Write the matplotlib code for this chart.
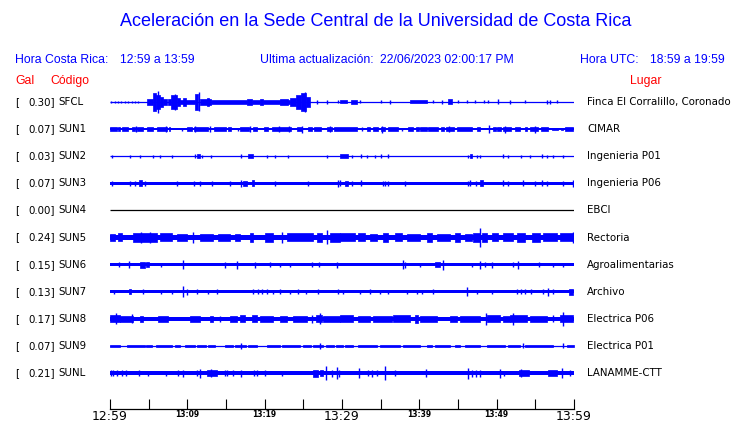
# Aceleracion en la Sede Central UCR - traces of the last hour
import matplotlib.pyplot as plt
import matplotlib.transforms as mtransforms

# station info
codes = ['SFCL', 'SUN1', 'SUN2', 'SUN3', 'SUN4', 'SUN5', 'SUN6', 'SUN7', 'SUN8', 'SUN9', 'SUNL']
gal = ['0.30', '0.07', '0.03', '0.07', '0.00', '0.24', '0.15', '0.13', '0.17', '0.07', '0.21']
places = ['Finca El Corralillo, Coronado', 'CIMAR', 'Ingenieria P01', 'Ingenieria P06', 'EBCI',
          'Rectoria', 'Agroalimentarias', 'Archivo', 'Electrica P06', 'Electrica P01', 'LANAMME-CTT']

tick_min = [0, 10, 20, 30, 40, 50, 60]
tick_lab = ['12:59', '13:09', '13:19', '13:29', '13:39', '13:49', '13:59']

# trace envelopes: time in minutes after 12:59, half amplitude in px
# base = half width of the continuous band, blk = (t0, t1, amp), spk = (t, amp)
sfcl_base = 0.6
sfcl_blk = [(4.8, 5.5, 3), (5.5, 6.0, 9), (6.0, 6.5, 7), (6.5, 6.9, 5), (6.9, 7.4, 3), (7.5, 7.9, 3),
            (7.9, 8.6, 7), (8.6, 9.0, 4), (9.0, 11.0, 2), (9.4, 9.8, 4), (11.0, 11.4, 8), (11.7, 13.1, 3),
            (12.5, 12.8, 4), (13.1, 17.7, 2), (17.7, 18.4, 3), (18.4, 19.4, 2), (19.4, 19.8, 3),
            (19.8, 23.3, 2), (22.0, 23.0, 3), (23.3, 24.0, 4), (24.0, 24.7, 7), (24.7, 25.4, 9),
            (25.4, 25.8, 5), (29.7, 30.6, 1.5), (31.2, 32.0, 2), (38.8, 41.0, 1.5), (43.7, 44.2, 2.5)]
sfcl_spk = [(0.1, 1.3), (0.7, 1.3), (1.0, 1.3), (1.4, 1.3), (1.9, 1.3), (2.3, 1.3), (2.8, 1.3), (3.2, 1.3),
            (3.6, 1.3), (6.2, 11), (8.4, 8), (11.5, 9.5), (25.2, 10), (26.8, 2), (28.1, 2), (29.5, 1.5),
            (32.3, 1.5), (35.1, 1.5), (36.2, 2), (41.8, 1.5), (42.9, 2), (45.0, 1.5), (46.2, 1.5),
            (47.2, 1.5), (48.3, 1.5), (48.9, 1.5), (50.2, 2.5), (51.7, 2), (53.7, 1.5), (56.5, 2),
            (56.9, 2), (57.8, 1.5)]

sun1_base = 1.0
sun1_blk = [(0.0, 0.9, 1.6), (1.0, 1.3, 1.6), (1.5, 2.3, 1.6), (2.8, 3.2, 1.6), (3.5, 4.3, 1.6),
            (4.8, 5.5, 1.6), (6.1, 7.4, 1.6), (7.6, 7.8, 1.6), (10.0, 10.6, 1.6), (10.8, 12.7, 2),
            (13.5, 15.0, 1.6), (15.2, 15.7, 1.6), (16.8, 18.0, 2), (18.5, 19.0, 1.6), (19.9, 20.4, 1.6),
            (20.9, 23.4, 2), (24.2, 24.8, 2), (25.6, 26.1, 1.6), (26.4, 27.3, 1.6), (28.0, 28.7, 2),
            (29.0, 32.0, 1.6), (33.2, 33.6, 1.6), (34.0, 34.7, 1.6), (35.0, 35.6, 2), (35.9, 37.3, 1.6),
            (38.5, 39.2, 1.6), (39.6, 40.0, 1.6), (40.1, 41.0, 1.6), (41.1, 42.4, 1.6), (42.8, 43.2, 1.6),
            (43.5, 44.5, 2), (44.9, 46.8, 1.6), (47.5, 47.9, 1.6), (49.5, 49.9, 1.6), (50.1, 50.6, 1.6),
            (50.8, 51.9, 2), (52.4, 53.0, 1.6), (53.6, 53.9, 1.6), (54.3, 55.3, 2), (55.7, 56.6, 1.6),
            (57.2, 57.9, 1.3), (58.3, 58.6, 1.3), (58.9, 59.9, 1.6)]
sun1_spk = [(3.3, 3), (7.2, 3), (9.3, 1.5), (11.0, 3), (12.9, 3), (16.5, 1.5), (18.1, 3), (21.8, 3),
            (23.1, 3), (24.8, 3.5), (28.4, 3), (32.6, 2), (35.2, 3.5), (37.7, 1.5), (43.9, 3), (49.0, 4),
            (51.1, 3.5), (54.9, 3.5)]

sun2_base = 0.65
sun2_blk = [(11.2, 11.6, 2), (17.9, 18.5, 2), (29.7, 30.8, 2), (46.6, 46.8, 2)]
sun2_spk = [(0.2, 1.5), (2.6, 1.5), (3.9, 1.5), (5.6, 1.5), (6.5, 1.5), (8.0, 1.5), (11.0, 2), (11.9, 1.5),
            (13.1, 1.5), (17.0, 2), (20.3, 1.5), (21.3, 1.5), (23.0, 1.5), (28.0, 1.5), (31.3, 1.5),
            (32.5, 2), (33.2, 1.5), (34.3, 1.5), (35.1, 2), (36.0, 2), (46.3, 1.5), (47.4, 1.5),
            (47.8, 1.5), (50.8, 2), (51.5, 1.5), (53.2, 1.5), (54.3, 1.5), (55.8, 2), (56.5, 1.5),
            (57.3, 1.5), (58.6, 1.5)]

sun3_base = 1.7
sun3_blk = [(3.8, 4.1, 3), (17.2, 17.7, 2.5), (18.3, 18.6, 3), (30.4, 30.8, 2.5), (47.8, 48.2, 3)]
sun3_spk = [(0.2, 2.5), (2.6, 2.5), (3.2, 2.5), (4.5, 2.5), (8.6, 2.5), (10.9, 2.5), (11.6, 2.5),
            (13.2, 2.5), (15.5, 2.5), (17.0, 3.5), (21.3, 2.5), (25.6, 2.5), (29.5, 3.5), (29.7, 3),
            (31.3, 2.5), (32.5, 3), (35.3, 2.5), (35.6, 2.5), (36.0, 2.5), (38.1, 2.5), (46.3, 2.5),
            (46.6, 3), (47.3, 2.5), (50.8, 3), (51.5, 2.5), (53.4, 3), (55.0, 2.5), (55.8, 3), (56.5, 2.5),
            (58.6, 2.5), (59.9, 3.5)]

sun4_base = 0.4
sun4_blk = []
sun4_spk = []

sun5_base = 2.9
sun5_blk = [(0.0, 0.65, 3.7), (1.0, 1.6, 4), (3.0, 6.1, 4.3), (6.5, 8.0, 4), (8.7, 10.0, 3.7),
            (11.6, 13.3, 3.7), (14.0, 15.5, 3.7), (16.2, 16.8, 3.7), (18.1, 18.5, 4.3), (20.0, 21.1, 4.3),
            (22.9, 26.2, 4), (26.8, 27.4, 4.8), (28.4, 29.7, 4.3), (29.7, 31.7, 4), (32.1, 33.0, 4),
            (33.6, 34.5, 3.7), (35.3, 35.9, 4.3), (36.9, 37.8, 4), (38.4, 40.1, 3.7), (41.0, 41.6, 4.8),
            (42.3, 44.0, 3.7), (44.6, 45.3, 4.3), (45.9, 46.8, 3.7), (46.9, 47.8, 4.3), (48.1, 48.7, 4.3),
            (49.4, 50.2, 4), (50.8, 52.1, 4), (52.6, 53.7, 4.3), (54.6, 55.6, 4.8), (56.0, 57.8, 4),
            (58.2, 59.9, 4)]
sun5_spk = [(4.0, 5.5), (5.2, 5.5), (10.7, 5.5), (22.3, 5.5), (28.0, 7), (47.9, 9.5), (59.9, 5.5)]

sun6_base = 1.7
sun6_blk = [(3.9, 4.5, 3), (4.7, 5.0, 2.5), (42.0, 42.7, 2.5)]
sun6_spk = [(1.2, 2.5), (2.4, 3.5), (6.6, 2), (9.4, 4.5), (14.9, 3), (16.4, 4), (18.75, 3), (20.7, 2.5),
            (22.0, 2), (23.3, 2), (26.1, 2.5), (27.0, 2.5), (29.4, 3), (37.9, 4.5), (38.2, 3), (40.1, 2),
            (43.0, 5), (46.8, 2), (47.8, 4), (48.5, 2.5), (49.4, 3), (52.1, 2.5), (52.7, 4), (55.5, 2.5),
            (57.3, 2), (58.6, 2)]

sun7_base = 1.7
sun7_blk = [(2.5, 2.7, 2.5), (59.3, 59.9, 3)]
sun7_spk = [(0.5, 2), (4.3, 2.5), (6.6, 2), (8.0, 2), (9.4, 5.5), (9.9, 3), (11.3, 2.5), (12.7, 2),
            (13.8, 2.5), (18.5, 2.5), (19.1, 2.5), (19.7, 2.5), (20.3, 2.5), (21.1, 2), (22.0, 2.5),
            (23.3, 2), (24.3, 2.5), (25.4, 2), (26.9, 2.5), (29.5, 2.5), (30.1, 2), (32.3, 2), (33.6, 2.5),
            (34.9, 2), (36.0, 2), (38.4, 2), (39.7, 2), (40.3, 2), (41.8, 2.5), (46.2, 4.5), (47.5, 2),
            (49.4, 2), (52.6, 2.5), (53.1, 2.5), (53.7, 2.5), (54.5, 2.5), (56.0, 2.5), (56.7, 4),
            (57.3, 2.5)]

sun8_base = 2.2
sun8_blk = [(0.0, 1.3, 3.7), (1.3, 3.0, 2.9), (3.9, 4.3, 3.2), (6.2, 7.5, 2.7), (10.3, 11.6, 3.2),
            (12.9, 13.3, 3.2), (15.5, 16.4, 3.2), (16.8, 17.5, 3.7), (18.3, 19.0, 3.7), (19.4, 21.1, 2.9),
            (22.0, 22.9, 2.9), (23.7, 25.5, 2.9), (26.7, 27.4, 3.5), (27.5, 29.7, 2.9), (29.7, 31.4, 3.5),
            (32.1, 33.6, 2.7), (34.0, 36.5, 2.7), (36.6, 38.8, 3.5), (39.4, 39.8, 4.2), (40.1, 42.3, 2.7),
            (44.0, 44.9, 3.2), (45.3, 47.8, 3.2), (48.7, 50.4, 3.7), (50.8, 51.7, 3.2), (51.7, 53.9, 3.5),
            (54.3, 56.5, 2.7), (58.2, 59.9, 3.5)]
sun8_spk = [(0.8, 5.5), (2.8, 4.5), (14.2, 3), (26.1, 4), (27.2, 5.5), (48.6, 6), (52.1, 6), (57.3, 3.5),
            (58.6, 7)]

sun9_base = 0.6
sun9_blk = [(0.0, 1.3, 1.3), (2.2, 4.5, 1.3), (4.7, 5.4, 1.3), (6.0, 8.0, 1.3), (8.4, 9.1, 1.3),
            (9.7, 11.0, 1.3), (11.3, 12.4, 1.3), (12.7, 13.6, 1.3), (14.9, 15.9, 1.3), (16.2, 17.6, 1.3),
            (17.9, 19.0, 1.3), (20.3, 22.0, 1.3), (22.3, 24.6, 1.3), (25.0, 26.0, 1.3), (26.3, 27.6, 1.3),
            (27.9, 29.0, 1.3), (29.2, 30.1, 1.3), (30.4, 31.4, 1.3), (32.1, 34.5, 1.3), (34.9, 37.5, 1.3),
            (37.9, 40.1, 1.3), (41.0, 41.6, 1.3), (42.0, 44.0, 1.3), (44.6, 45.3, 1.3), (45.9, 47.8, 1.3),
            (48.7, 51.1, 1.3), (51.5, 53.0, 1.3), (53.7, 57.3, 1.3), (59.1, 60.0, 1.3)]
sun9_spk = [(17.0, 3), (27.2, 3), (53.4, 2.5), (58.6, 2.5)]

sunl_base = 1.7
sunl_blk = [(12.5, 13.8, 3), (26.2, 26.9, 3.5), (27.2, 27.5, 3), (52.9, 54.2, 3), (56.7, 57.8, 3)]
sunl_spk = [(0.1, 3), (0.4, 3), (0.9, 3), (1.6, 3), (2.1, 3), (3.8, 3), (4.9, 2.5), (7.3, 2.5), (8.8, 3),
            (9.5, 3.5), (11.2, 3), (11.6, 4.5), (13.1, 4), (14.9, 3), (15.1, 3), (15.9, 3), (17.0, 3.5),
            (18.6, 3), (19.0, 3), (20.1, 3), (22.3, 2.5), (27.9, 7), (28.7, 3.5), (29.3, 6), (29.6, 3.5),
            (32.2, 5), (33.4, 3), (33.9, 3.5), (34.5, 3), (35.6, 7), (36.9, 3), (40.8, 4), (46.3, 5.5),
            (46.8, 3.5), (47.3, 3.5), (47.8, 3.5), (50.4, 4.5), (50.9, 2.5), (53.2, 4), (58.5, 5), (59.5, 3)]

bases = [sfcl_base, sun1_base, sun2_base, sun3_base, sun4_base, sun5_base,
         sun6_base, sun7_base, sun8_base, sun9_base, sunl_base]
blocks = [sfcl_blk, sun1_blk, sun2_blk, sun3_blk, sun4_blk, sun5_blk,
          sun6_blk, sun7_blk, sun8_blk, sun9_blk, sunl_blk]
spikes = [sfcl_spk, sun1_spk, sun2_spk, sun3_spk, sun4_spk, sun5_spk,
          sun6_spk, sun7_spk, sun8_spk, sun9_spk, sunl_spk]

W, H = 740, 423
ROW_PX = 27.1       # pixels between two traces
BLUE = '#0000ff'
RED = '#ff0000'

fig = plt.figure(figsize=(W / 100, H / 100), dpi=100)
ax = fig.add_axes([110 / W, 14 / H, 464 / W, 319 / H])
ax.set_xlim(0, 60)
ax.set_ylim((409 - 102) / ROW_PX, (90 - 102) / ROW_PX)

for i in range(len(codes)):
    col = 'black' if codes[i] == 'SUN4' else BLUE
    b = bases[i] / ROW_PX
    if bases[i] < 0.7:
        ax.hlines(i, 0, 60, color=col, lw=0.9)
    else:
        ax.fill_between([0, 60], i - b, i + b, color=col, lw=0)
    for t0, t1, a in blocks[i]:
        a = a / ROW_PX
        ax.fill_between([t0, t1], i - a, i + a, color=col, lw=0.5)
    for t, a in spikes[i]:
        a = a / ROW_PX
        ax.vlines(t, i - a, i + a, color=col, lw=1.0)

# time axis at the bottom
for s in ['top', 'left', 'right']:
    ax.spines[s].set_visible(False)
ax.spines['bottom'].set_linewidth(0.9)
ax.set_yticks([])
ax.set_xticks(tick_min)
ax.set_xticklabels(tick_lab)
ax.set_xticks(range(5, 60, 10), minor=True)
ax.tick_params(axis='x', which='both', direction='in', length=7.2, width=0.8, pad=1)
for k, lab in enumerate(ax.get_xticklabels()):
    if k % 3 == 0:
        lab.set_fontsize(9)
        lab.set_family('DejaVu Sans')
    else:
        lab.set_fontsize(5.5)
        lab.set_fontweight('bold')
        lab.set_family('DejaVu Sans')

# labels left and right of each trace
trans = mtransforms.blended_transform_factory(fig.transFigure, ax.transData)
for i in range(len(codes)):
    ax.text(15 / W, i, '[', transform=trans, ha='left', va='center', fontsize=7.4, family='DejaVu Sans')
    ax.text(55 / W, i, gal[i] + ']', transform=trans, ha='right', va='center', fontsize=7.4,
            family='DejaVu Sans')
    ax.text(58 / W, i, codes[i], transform=trans, ha='left', va='center', fontsize=7.4, family='DejaVu Sans')
    ax.text(587 / W, i, places[i], transform=trans, ha='left', va='center', fontsize=7.4,
            family='DejaVu Sans')

# header
hf = dict(family='Liberation Sans', va='center', color=BLUE, fontsize=8.8)
fig.text(376 / W, 1 - 22 / H, 'Aceleración en la Sede Central de la Universidad de Costa Rica',
         ha='center', va='center', color=BLUE, fontsize=13, family='Liberation Sans')
fig.text(15 / W, 1 - 60 / H, 'Hora Costa Rica:', **hf)
fig.text(120 / W, 1 - 60 / H, '12:59 a 13:59', **hf)
fig.text(260 / W, 1 - 60 / H, 'Ultima actualización:', **hf)
fig.text(380 / W, 1 - 60 / H, '22/06/2023 02:00:17 PM', **hf)
fig.text(580 / W, 1 - 60 / H, 'Hora UTC:', **hf)
fig.text(650 / W, 1 - 60 / H, '18:59 a 19:59', **hf)
rf = dict(family='Liberation Sans', va='center', color=RED, fontsize=8.8)
fig.text(15 / W, 1 - 81 / H, 'Gal', **rf)
fig.text(50 / W, 1 - 81 / H, 'Código', **rf)
fig.text(630 / W, 1 - 81 / H, 'Lugar', **rf)

fig.savefig('out.png', dpi=100)
